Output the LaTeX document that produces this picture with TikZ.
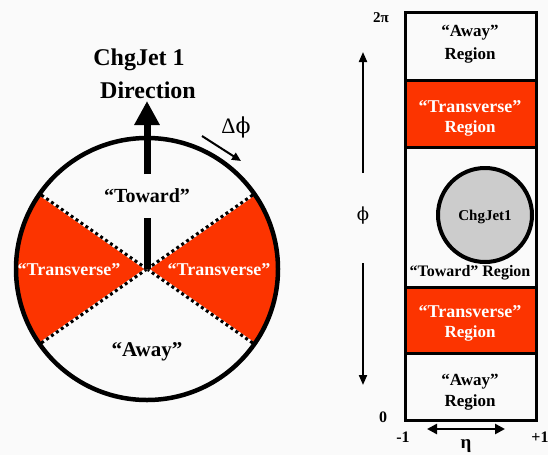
\documentclass[tikz,border=0pt]{standalone}
\usepackage{fontspec}
\setmainfont{Liberation Serif}
\newfontfamily\dvserif{DejaVu Serif}
\usetikzlibrary{arrows.meta,calc}
\definecolor{bg}{RGB}{250,250,250}
\definecolor{tred}{RGB}{252,52,0}
\definecolor{jetgray}{RGB}{204,204,204}
\tikzset{
  lbl/.style={inner sep=0pt, font=\bfseries\fontsize{#1}{#1}\selectfont},
  wlbl/.style={lbl=#1, text=white},
  divider/.style={line width=3pt},
  bigarrow/.style={line width=7pt},
  thinarrow/.style={line width=2pt, -{Triangle[length=10pt,width=8pt]}},
}
\begin{document}
\begin{tikzpicture}[x=1pt,y=-1pt]
\useasboundingbox (0,0) rectangle (548,455);
\fill[bg] (0,0) rectangle (548,455);
% ---------- left circle ----------
\coordinate (C) at (147,269);
\fill[tred] (C) -- ++(35:131) arc[start angle=35, end angle=-35, radius=131] -- cycle;
\fill[tred] (C) -- ++(145:131) arc[start angle=145, end angle=215, radius=131] -- cycle;
\foreach \a/\n in {35/ur,-35/lr,145/ul,215/ll}{
  \coordinate (\n) at ($(C)+(\a:131)$);
}
\foreach \n in {ur,lr,ul,ll}{
  \draw[white, line width=3pt] (C) -- (\n);
  \draw[black, line width=3pt, dash pattern=on 3pt off 3pt] (C) -- (\n);
}
\draw[line width=4.5pt] (C) circle[radius=131];
% arrow
\coordinate (shaftA) at (147,218);
\coordinate (shaftB) at (147,174);
\coordinate (tip) at (147,101);
\draw[bigarrow] (C) -- (shaftA);
\draw[bigarrow, -{Triangle[length=24pt,width=24pt]}] (shaftB) -- (tip);
\node[lbl=24] (cj) at (139,60) {ChgJet 1};
\node[lbl=24] (dir) at (148,90) {Direction};
\node[inner sep=0pt, font=\fontsize{22}{22}\selectfont] (dphi) at (236,127) {Δ{\dvserif ϕ}};
\coordinate (da) at (202,136);
\coordinate (db) at (241,161);
\draw[line width=2pt, -{Triangle[length=9pt,width=8pt]}] (da) -- (db);
\node[lbl=20] (tow) at (147,196) {“Toward”};
\node[wlbl=18] (tl) at (69,270) {“Transverse”};
\node[wlbl=18] (tr) at (219,270) {“Transverse”};
\node[lbl=21] (aw) at (147,352) {“Away”};
% ---------- right box ----------
\fill[tred] (405,80) rectangle (536,147);
\fill[tred] (405,287) rectangle (536,353);
\draw[divider] (405,80) -- (536,80);
\draw[divider] (405,147) -- (536,147);
\draw[divider] (405,287) -- (536,287);
\draw[divider] (405,353) -- (536,353);
\draw[line width=3pt] (405,12) rectangle (536,420);
\node[lbl=17] (a1) at (470,33) {“Away”};
\node[lbl=17] (r1) at (470,55) {Region};
\node[wlbl=18] (t1) at (470,107) {“Transverse”};
\node[wlbl=17] (r2) at (470,128) {Region};
\node[draw, circle, fill=jetgray, line width=4pt, minimum size=94pt, inner sep=0pt] (jet) at (485,215) {};
\node[lbl=15] (jl) at (485,217) {ChgJet1};
\node[lbl=16] (tw) at (470,273) {“Toward” Region};
\node[wlbl=18] (t2) at (470,312) {“Transverse”};
\node[wlbl=17] (r3) at (470,333) {Region};
\node[lbl=17] (a2) at (470,382) {“Away”};
\node[lbl=17] (r4) at (470,402) {Region};
% axis labels
\node[lbl=15] (twopi) at (381,18) {2π};
\node[lbl=16] (zero) at (383,417) {0};
\node[lbl=16] (m1) at (403,437) {-1};
\node[lbl=16] (p1) at (540,437) {+1};
\node[lbl=19] (eta) at (466,446) {η};
\node[inner sep=0pt, font=\dvserif\fontsize{18}{18}\selectfont] (phi) at (363,216) {ϕ};
\coordinate (u0) at (363,173);
\coordinate (u1) at (363,52);
\coordinate (d0) at (363,263);
\coordinate (d1) at (363,385);
\draw[thinarrow] (u0) -- (u1);
\draw[thinarrow] (d0) -- (d1);
\coordinate (e0) at (427,429);
\coordinate (e1) at (505,429);
\draw[line width=2.5pt, {Triangle[length=10pt,width=10pt]}-{Triangle[length=10pt,width=10pt]}] (e0) -- (e1);
\end{tikzpicture}
\end{document}
